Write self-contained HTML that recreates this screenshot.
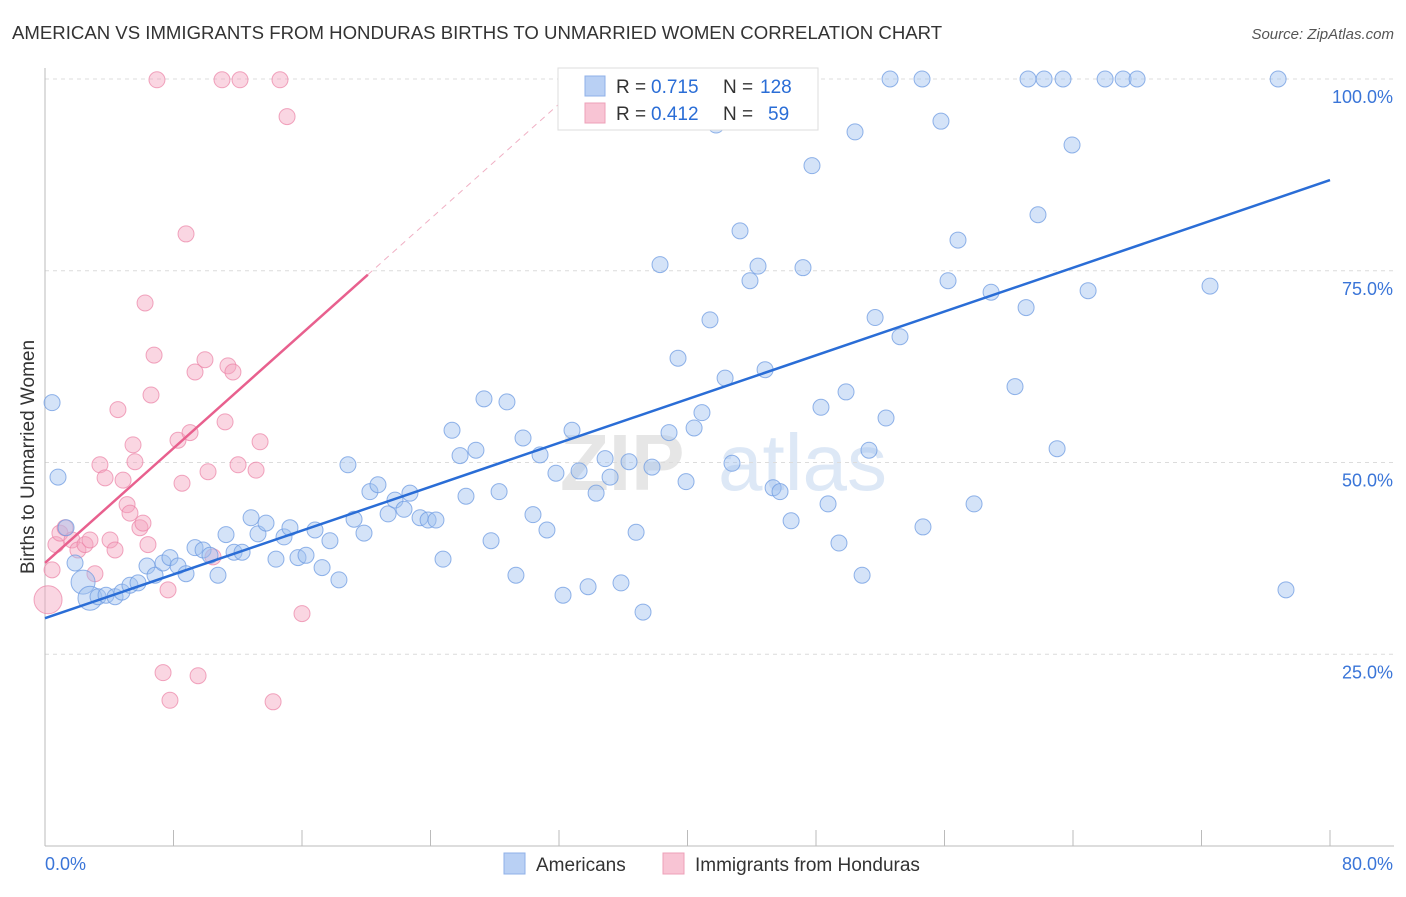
<!DOCTYPE html>
<html><head><meta charset="utf-8"><style>
body{margin:0;background:#fff;font-family:"Liberation Sans",sans-serif;}
svg text{font-family:"Liberation Sans",sans-serif;}
</style></head><body>
<svg id="chart" width="1406" height="892">
<text x="12" y="39" font-size="18.6" fill="#333">AMERICAN VS IMMIGRANTS FROM HONDURAS BIRTHS TO UNMARRIED WOMEN CORRELATION CHART</text>
<text x="1394" y="39" font-size="15" fill="#555" font-style="italic" text-anchor="end">Source: ZipAtlas.com</text>
<text x="560" y="490" font-size="80" fill="#e6e6e6" font-weight="bold" font-family="Liberation Serif">ZIP</text>
<text x="718" y="490" font-size="80" fill="#dde8f6">atlas</text>
<text transform="translate(34,457) rotate(-90)" font-size="19" fill="#333" text-anchor="middle">Births to Unmarried Women</text>
<g id="grid"></g><g id="axes"></g><g id="marks"></g><g id="lines"></g>
<g>
<rect x="558" y="68" width="260" height="62" fill="#fff" stroke="#ddd"/>
<rect x="585" y="76" width="20" height="20" fill="#b9d0f4" stroke="#8fb0e8"/>
<rect x="585" y="103" width="20" height="20" fill="#f8c4d4" stroke="#eea0b8"/>
<text x="616" y="93" font-size="19" fill="#333">R =</text>
<text x="651" y="93" font-size="19" fill="#2a6dd6">0.715</text>
<text x="723" y="93" font-size="19" fill="#333">N =</text>
<text x="760" y="93" font-size="19" fill="#2a6dd6">128</text>
<text x="616" y="120" font-size="19" fill="#333">R =</text>
<text x="651" y="120" font-size="19" fill="#2a6dd6">0.412</text>
<text x="723" y="120" font-size="19" fill="#333">N =</text>
<text x="768" y="120" font-size="19" fill="#2a6dd6">59</text>
</g>
<g>
<rect x="504" y="853" width="21" height="21" fill="#b9d0f4" stroke="#8fb0e8"/>
<text x="536" y="871" font-size="19" fill="#333">Americans</text>
<rect x="663" y="853" width="21" height="21" fill="#f8c4d4" stroke="#eea0b8"/>
<text x="695" y="871" font-size="19" fill="#333">Immigrants from Honduras</text>
</g>
</svg>
<script>
const blueX=[0.44,0.81,1.31,1.87,2.37,2.80,3.30,3.80,4.36,4.79,5.29,5.79,6.35,6.85,7.35,7.78,8.28,8.78,9.34,9.84,10.27,10.77,11.27,11.77,12.27,12.83,13.26,13.76,14.38,14.88,15.25,15.75,16.25,16.81,17.25,17.74,18.30,18.86,19.24,19.86,20.23,20.73,21.36,21.79,22.35,22.72,23.35,23.85,24.34,24.78,25.34,25.84,26.21,26.83,27.33,27.77,28.27,28.76,29.32,29.76,30.38,30.82,31.25,31.81,32.25,32.81,33.25,33.81,34.31,34.87,35.18,35.86,36.36,36.80,37.23,37.79,38.29,38.85,39.41,39.91,40.41,40.90,41.40,41.78,42.34,42.77,43.27,43.89,44.39,44.83,45.33,45.76,46.45,47.19,47.75,48.31,48.75,49.43,49.87,50.43,50.87,51.30,51.68,52.36,52.61,53.23,54.60,54.66,55.78,56.22,56.84,57.84,58.90,60.39,61.08,61.20,61.82,62.20,63.01,63.38,63.94,64.94,66.00,67.12,67.99,72.53,76.77,77.26];
const blueY=[57.8,48.1,41.5,36.9,34.4,32.3,32.5,32.7,32.5,33.1,34.0,34.3,36.5,35.3,36.9,37.6,36.5,35.5,38.9,38.6,37.9,35.3,40.6,38.3,38.3,42.8,40.7,42.1,37.4,40.3,41.5,37.6,37.9,41.2,36.3,39.8,34.7,49.7,42.6,40.8,46.2,47.1,43.3,45.1,43.9,46.0,42.8,42.5,42.5,37.4,54.2,50.9,45.6,51.6,58.3,39.8,46.2,57.9,35.3,53.2,43.2,51.0,41.2,48.6,32.7,54.2,48.9,33.8,46.0,50.5,48.1,34.3,50.1,40.9,30.5,49.4,75.8,53.9,63.6,47.5,54.5,56.5,68.6,94.0,61.0,49.9,80.2,73.7,75.6,62.1,46.7,46.2,42.4,75.4,88.7,57.2,44.6,39.5,59.2,93.1,35.3,51.6,68.9,55.8,100,66.4,100,41.6,94.5,73.7,79.0,44.6,72.2,59.9,70.2,100,82.3,100,51.8,100,91.4,72.4,100,100,100,73.0,100,33.4];
const pinkX=[0.19,0.44,0.68,0.93,1.25,1.68,2.05,2.49,2.80,3.11,3.42,3.74,4.05,4.36,4.54,4.86,5.11,5.29,5.48,5.60,5.91,6.10,6.23,6.41,6.60,6.79,6.97,7.35,7.66,7.78,8.28,8.53,8.78,9.03,9.34,9.53,9.96,10.15,10.46,11.02,11.21,11.39,11.70,12.02,12.14,13.14,13.39,14.20,14.63,15.07,16.00];
const pinkY=[32.1,36.0,39.3,40.8,41.5,39.9,38.6,39.3,39.9,35.5,49.7,48.0,39.9,38.6,56.9,47.7,44.5,43.4,52.3,50.1,41.5,42.1,70.8,39.3,58.8,64.0,99.9,22.6,33.4,19.0,52.9,47.3,79.8,53.9,61.8,22.2,63.4,48.8,37.7,99.9,55.3,62.6,61.8,49.7,99.9,49.0,52.7,18.8,99.9,95.1,30.3];
const blueFit=[29.7,0.714];
const pinkFit=[36.9,1.87];
const yTicks=[25,50,75,100];
const yTickLabels=["25.0%","50.0%","75.0%","100.0%"];
const xTicks=[0,8,16,24,32,40,48,56,64,72,80];

const X0=45,X1=1330,Y0=846,Y100=79;
const sx=v=>X0+(X1-X0)*v/80;
const sy=v=>Y0-(Y0-Y100)*v/100;
const NS="http://www.w3.org/2000/svg";
function mk(tag,attrs,parent){const e=document.createElementNS(NS,tag);for(const k in attrs)e.setAttribute(k,attrs[k]);document.getElementById(parent).appendChild(e);return e;}

yTicks.forEach((t,i)=>{
 const g=mk('line',{x1:X0,x2:1394,y1:sy(t),y2:sy(t),stroke:'#dcdcdc','stroke-dasharray':'4,4'},'grid');
 
 
 const l=mk('text',{x:1393,y:sy(t)+24,'font-size':18,fill:'#3a75d8','text-anchor':'end'},'grid');
 l.textContent=yTickLabels[i];
 
 
});
const ya=mk('line',{x1:X0,x2:X0,y1:68,y2:Y0,stroke:'#bbb'},'axes');


const xa=mk('line',{x1:X0,x2:1394,y1:Y0,y2:Y0,stroke:'#bbb'},'axes');


xTicks.forEach(t=>{
 const k=mk('line',{x1:sx(t),x2:sx(t),y1:Y0,y2:Y0-16,stroke:'#bbb'},'axes');
 
 
});
const xl0=mk('text',{x:45,y:870,'font-size':18,fill:'#3a75d8'},'axes');xl0.textContent='0.0%';


const xl1=mk('text',{x:1393,y:870,'font-size':18,fill:'#3a75d8','text-anchor':'end'},'axes');xl1.textContent='80.0%';



pinkX.forEach((x,i)=>{
 const c=mk('circle',{cx:sx(x),cy:sy(pinkY[i]),r:i==0?14:8,fill:'rgba(245,165,190,0.45)',stroke:'rgba(235,130,165,0.7)','stroke-width':1},'marks');
 
 
});
blueX.forEach((x,i)=>{
 const c=mk('circle',{cx:sx(x),cy:sy(blueY[i]),r:(i==4||i==5)?12:8,fill:'rgba(160,192,240,0.45)',stroke:'rgba(110,155,225,0.75)','stroke-width':1},'marks');
 
 
});
const bl=mk('line',{x1:sx(0),y1:sy(blueFit[0]),x2:sx(80),y2:sy(blueFit[0]+80*blueFit[1]),stroke:'#2a6dd6','stroke-width':2.5},'lines');


const pEnd=20.1, pDash=(100-pinkFit[0])/pinkFit[1];
const pl=mk('line',{x1:sx(0),y1:sy(pinkFit[0]),x2:sx(pEnd),y2:sy(pinkFit[0]+pEnd*pinkFit[1]),stroke:'#e8608e','stroke-width':2.5},'lines');


const pd=mk('line',{x1:sx(pEnd),y1:sy(pinkFit[0]+pEnd*pinkFit[1]),x2:sx(pDash),y2:sy(100),stroke:'#f0b0c4','stroke-width':1,'stroke-dasharray':'6,5'},'lines');


</script>
</body></html>
